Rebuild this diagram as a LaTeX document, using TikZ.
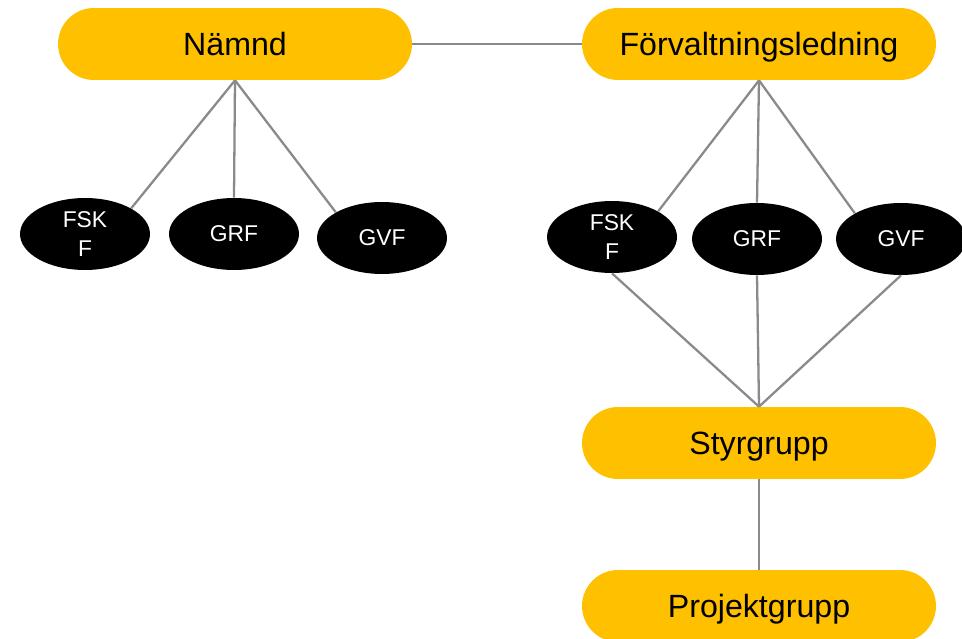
\documentclass[tikz,border=0pt]{standalone}
\usepackage{fontspec}
\setmainfont{Liberation Sans}
\usetikzlibrary{shapes.geometric}
\definecolor{orgyellow}{HTML}{FFC000}
\definecolor{orggray}{HTML}{8A8A8A}

\begin{document}
\begin{tikzpicture}[x=0.02cm,y=-0.02cm]
    \tikzset{GroupStyle/.style = {fill=orgyellow, rounded corners=0.72cm,
        minimum width=7.08cm, minimum height=1.44cm, text height=15pt, text depth=2pt,
        font=\fontsize{18.3}{20}\selectfont}}
    \tikzset{UnitStyle/.style = {ellipse, fill=black, text=white, inner sep=0pt,
        minimum width=2.6cm, minimum height=1.44cm, align=center,
        font=\fontsize{13}{17}\selectfont}}
    \tikzset{EdgeStyle/.style = {draw=orggray, line width=1.3pt}}
    \clip (0,0) rectangle (962,638);
    \useasboundingbox (0,0) rectangle (962,638);
    % top level
    \node[GroupStyle] (Namnd) at (235,44) {Nämnd};
    \node[GroupStyle] (Forv) at (759,44) {Förvaltningsledning};
    \node[GroupStyle] (Styr) at (759,443) {Styrgrupp};
    \node[GroupStyle] (Proj) at (759,606) {Projektgrupp};
    % units under the board
    \node[UnitStyle] (FSKF1) at (85,234) {FSK\\F};
    \node[UnitStyle] (GRF1) at (234,234) {GRF};
    \node[UnitStyle] (GVF1) at (382,238) {GVF};
    % units under the administration
    \node[UnitStyle] (FSKF2) at (612,237) {FSK\\F};
    \node[UnitStyle] (GRF2) at (757,239) {GRF};
    \node[UnitStyle] (GVF2) at (901,239) {GVF};
    % connectors
    \draw[EdgeStyle] (Namnd) -- (Forv);
    \draw[EdgeStyle] (Namnd.south) -- (FSKF1.north east);
    \draw[EdgeStyle] (Namnd.south) -- (GRF1.north);
    \draw[EdgeStyle] (Namnd.south) -- (GVF1.north west);
    \draw[EdgeStyle] (Forv.south) -- (FSKF2.north east);
    \draw[EdgeStyle] (Forv.south) -- (GRF2.north);
    \draw[EdgeStyle] (Forv.south) -- (GVF2.north west);
    \draw[EdgeStyle] (FSKF2.south) -- (Styr.north);
    \draw[EdgeStyle] (GRF2.south) -- (Styr.north);
    \draw[EdgeStyle] (GVF2.south) -- (Styr.north);
    \draw[EdgeStyle] (Styr) -- (Proj);
\end{tikzpicture}
\end{document}
